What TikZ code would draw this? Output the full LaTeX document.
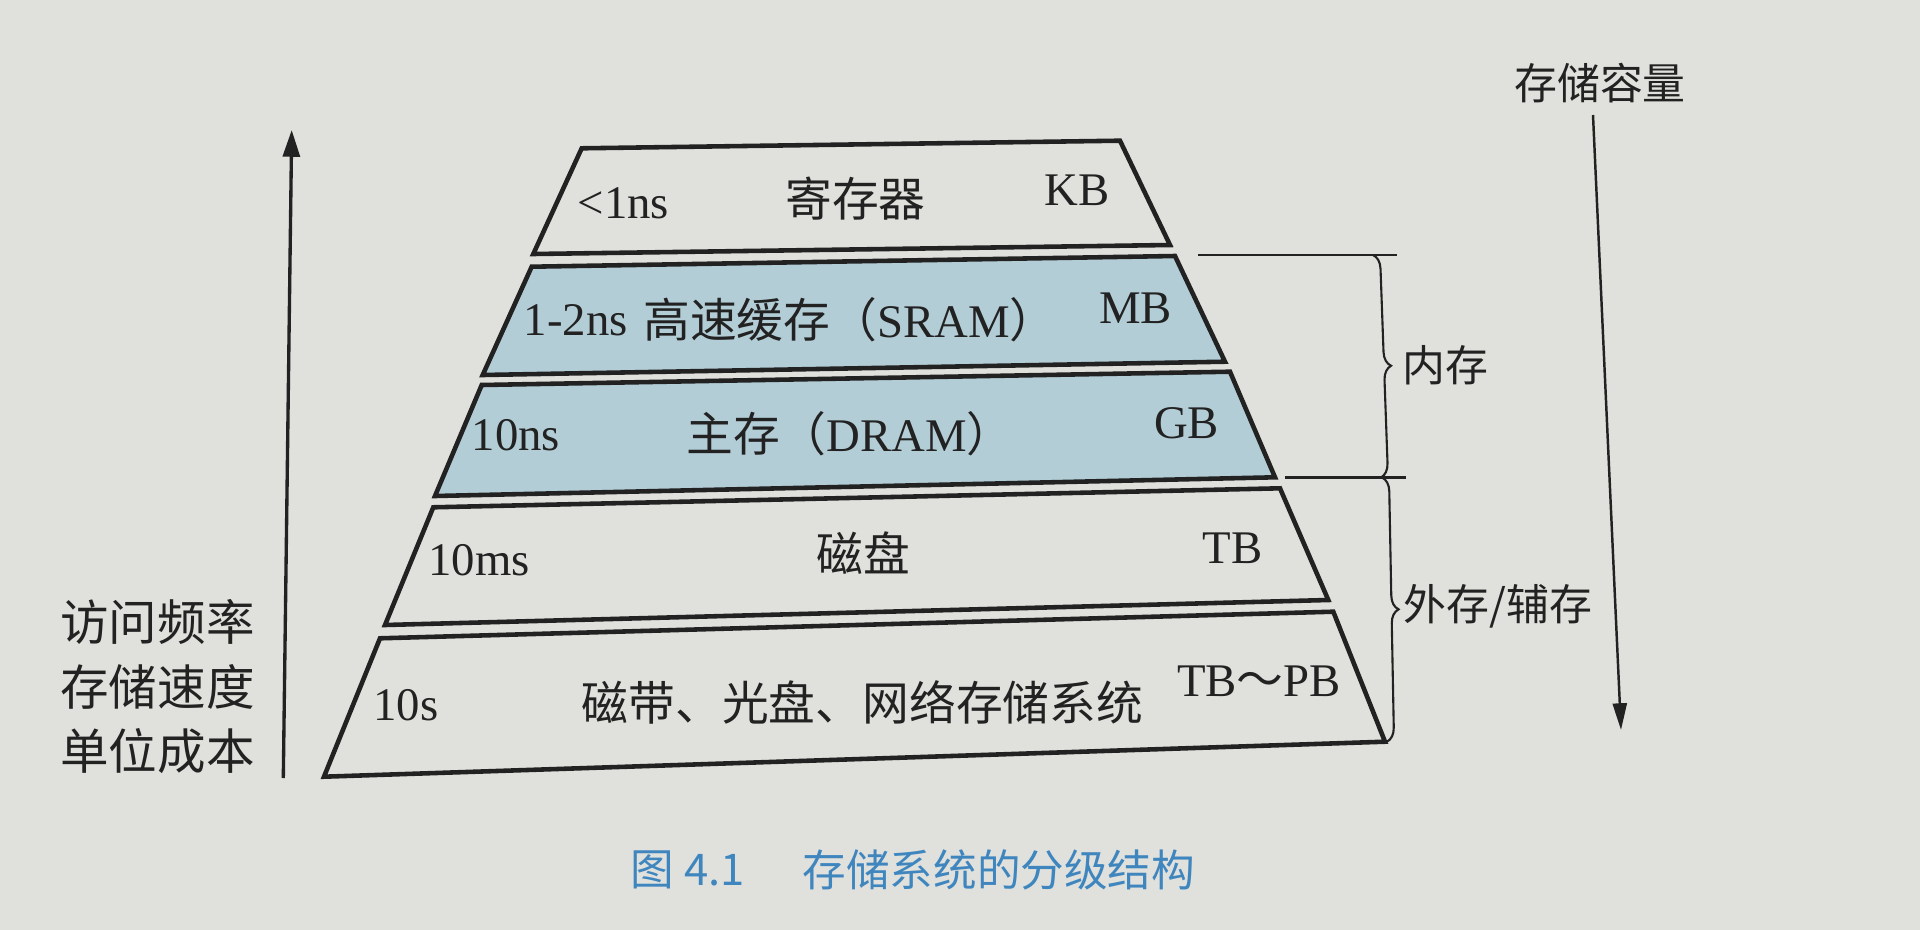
\documentclass[tikz,border=0pt]{standalone}
\usepackage{fontspec}
\setmainfont{Liberation Serif}
\newfontfamily\cjk{Noto Sans CJK SC}
\usetikzlibrary{arrows.meta,decorations.pathreplacing}
\definecolor{paper}{HTML}{E0E0DC}
\definecolor{tierblue}{HTML}{B3CDD7}
\definecolor{ink}{HTML}{222222}
\definecolor{capblue}{HTML}{3F86BF}
\begin{document}
\begin{tikzpicture}[x=0.01cm,y=-0.01cm,
  tier/.style={draw=ink,line width=1.3pt,line join=miter},
  lat/.style={text=ink,inner sep=0pt,font=\fontsize{13.3}{15}\selectfont},
  cn/.style={text=ink,inner sep=0pt,font=\cjk\fontsize{13.3}{15}\selectfont},
  side/.style={text=ink,inner sep=0pt,font=\cjk\fontsize{12.2}{14}\selectfont},
  thinline/.style={draw=ink,line width=0.6pt},
  capt/.style={text=capblue,inner sep=0pt,font=\cjk\fontsize{12.4}{14}\selectfont}]
\fill[paper] (0,0) rectangle (1920,930);
\useasboundingbox (0,0) rectangle (1920,930);

% tier corners
\coordinate (t1a) at (581.7,148.3); \coordinate (t1b) at (1120,140.7);
\coordinate (t1c) at (1170,245);    \coordinate (t1d) at (533.3,254);
\coordinate (t2a) at (531.7,266.7); \coordinate (t2b) at (1175,256);
\coordinate (t2c) at (1225,361.7);  \coordinate (t2d) at (482.7,375);
\coordinate (t3a) at (481.7,385);   \coordinate (t3b) at (1230,371.7);
\coordinate (t3c) at (1275,477.3);  \coordinate (t3d) at (435,496);
\coordinate (t4a) at (433.3,507.3); \coordinate (t4b) at (1280,488.3);
\coordinate (t4c) at (1328.3,600);  \coordinate (t4d) at (385,625);
\coordinate (t5a) at (380,638.3);   \coordinate (t5b) at (1333.3,611.7);
\coordinate (t5c) at (1385,741.7);  \coordinate (t5d) at (324,776.7);

\draw[tier] (t1a) -- (t1b) -- (t1c) -- (t1d) -- cycle;
\draw[tier,fill=tierblue] (t2a) -- (t2b) -- (t2c) -- (t2d) -- cycle;
\draw[tier,fill=tierblue] (t3a) -- (t3b) -- (t3c) -- (t3d) -- cycle;
\draw[tier] (t4a) -- (t4b) -- (t4c) -- (t4d) -- cycle;
\draw[tier] (t5a) -- (t5b) -- (t5c) -- (t5d) -- cycle;

% tier texts
\node[lat] (r1t) at (623.3,203.3) {<1ns};
\node[cn]  (r1n) at (855.5,198.3) {寄存器};
\node[lat] (r1s) at (1077,190) {KB};
\node[lat] (r2t) at (575.8,320) {1-2ns};
\node[lat] (r2n) at (850,320) {{\cjk 高速缓存（}SRAM{\cjk ）}};
\node[lat] (r2s) at (1135.8,308.3) {MB};
\node[lat] (r3t) at (515.8,435) {10ns};
\node[lat] (r3n) at (850,433.3) {{\cjk 主存（}DRAM{\cjk ）}};
\node[lat] (r3s) at (1186.7,423.3) {GB};
\node[lat] (r4t) at (479,560) {10ms};
\node[cn]  (r4n) at (863,553) {磁盘};
\node[lat] (r4s) at (1232.5,548.3) {TB};
\node[lat] (r5t) at (405.8,705) {10s};
\node[cn]  (r5n) at (862.5,702) {磁带、光盘、网络存储系统};
\node[lat] (r5s) at (1259,681.7) {TB{\cjk ～}PB};

% left axis
\coordinate (la0) at (283.3,778);
\coordinate (la1) at (291.7,130);
\draw[ink,line width=0.95pt,-{Triangle[length=7.6pt,width=4.8pt]}] (la0) -- (la1);
\node[text=ink,inner sep=0pt,align=center,font=\cjk\fontsize{13.8}{18.4}\selectfont]
  (lefttxt) at (157.5,686.7) {访问频率\\存储速度\\单位成本};

% right axis
\node[side] (captop) at (1600,83.5) {存储容量};
\coordinate (ra0) at (1593,115);
\coordinate (ra1) at (1621,730);
\draw[ink,line width=0.7pt,-{Triangle[length=7.6pt,width=4pt]}] (ra0) -- (ra1);

% braces
\coordinate (k1a) at (1198,255);   \coordinate (k1b) at (1397,255);
\coordinate (k2a) at (1285,477.5); \coordinate (k2b) at (1406,477.5);
\draw[thinline] (k1a) -- (k1b);
\draw[thinline] (k2a) -- (k2b);
\coordinate (b1a) at (1373,255);   \coordinate (b1b) at (1381,477.5);
\coordinate (b2a) at (1382,477.5); \coordinate (b2b) at (1387,741.7);
\draw[thinline,decorate,decoration={brace,amplitude=4pt}] (b1a) -- (b1b);
\draw[thinline,decorate,decoration={brace,amplitude=4pt}] (b2a) -- (b2b);
\node[side,anchor=west] (inner) at (1401.7,365) {内存};
\node[side,anchor=west] (outer) at (1403,606.7) {外存/辅存};

% caption
\node[capt,anchor=west] (capnum) at (630,870) {图 4.1};
\node[capt,anchor=west] (captitle) at (802,870) {存储系统的分级结构};
\end{tikzpicture}
\end{document}
